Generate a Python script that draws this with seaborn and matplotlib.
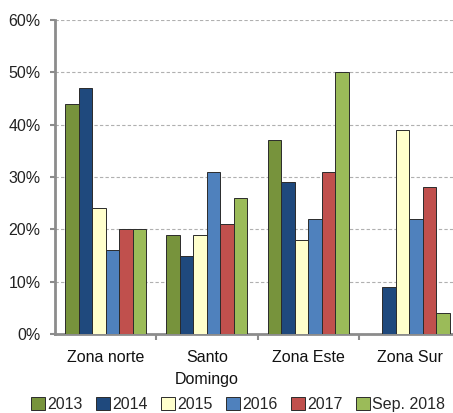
import seaborn as sns
import matplotlib.pyplot as plt
import matplotlib.ticker as mticker
import pandas as pd
import numpy as np

# Data (percent)
zonas = ["Zona norte", "Santo\nDomingo", "Zona Este", "Zona Sur"]
periodos = ["2013", "2014", "2015", "2016", "2017", "Sep. 2018"]
v2013 = [44, 19, 37, np.nan]
v2014 = [47, 15, 29, 9]
v2015 = [24, 19, 18, 39]
v2016 = [16, 31, 22, 22]
v2017 = [20, 21, 31, 28]
vsep2018 = [20, 26, 50, 4]
colores = ["#77933C", "#1F497D", "#FFFFCC", "#4F81BD", "#C0504D", "#9BBB59"]

series = [v2013, v2014, v2015, v2016, v2017, vsep2018]
rows = []
for p, vals in zip(periodos, series):
    for z, v in zip(zonas, vals):
        rows.append({"zona": z, "periodo": p, "valor": v})
df = pd.DataFrame(rows)

sns.set_style("white")
plt.rcParams["font.family"] = ["Liberation Sans", "DejaVu Sans"]

fig = plt.figure(figsize=(4.53, 4.13), dpi=100)
ax = fig.add_axes([55 / 453, 79 / 413, 398 / 453, 314 / 413])

sns.barplot(data=df, x="zona", y="valor", hue="periodo", order=zonas,
            hue_order=periodos, palette=colores, width=0.8, saturation=1,
            edgecolor="#2b2b2b", linewidth=0.7, ax=ax, zorder=3)

ax.set_ylim(0, 60)
ax.set_xlim(-0.5, 3.43)
ax.yaxis.set_major_locator(mticker.MultipleLocator(10))
ax.yaxis.set_major_formatter(mticker.FuncFormatter(lambda v, _: f"{v:.0f}%"))
ax.grid(axis="y", color="#b0b0b0", linestyle=(0, (3, 2)), linewidth=0.8, zorder=0)
ax.set_axisbelow(True)

for s in ["top", "right"]:
    ax.spines[s].set_visible(False)
for s in ["left", "bottom"]:
    ax.spines[s].set_color("#8c8c8c")
    ax.spines[s].set_linewidth(2)

ax.set_xlabel("")
ax.set_ylabel("")
ax.tick_params(axis="y", left=True, length=3.5, width=1.5, color="#8c8c8c",
               labelsize=11.5, labelcolor="#222222", pad=7)
ax.tick_params(axis="x", which="major", bottom=False, labelsize=11.5,
               labelcolor="#111111", pad=8)
for lbl in ax.get_xticklabels():
    lbl.set_linespacing(1.6)
ax.set_xticks([0.5, 1.5, 2.5], minor=True)
ax.tick_params(axis="x", which="minor", bottom=True, length=4, width=1.5,
               color="#8c8c8c")

ax.legend(loc="upper center", bbox_to_anchor=(0.46, -0.18), ncol=6,
          frameon=False, fontsize=11.5, handlelength=0.85, handleheight=0.85,
          handletextpad=0.15, columnspacing=0.85, borderaxespad=0)

fig.savefig("out.png", dpi=100)
